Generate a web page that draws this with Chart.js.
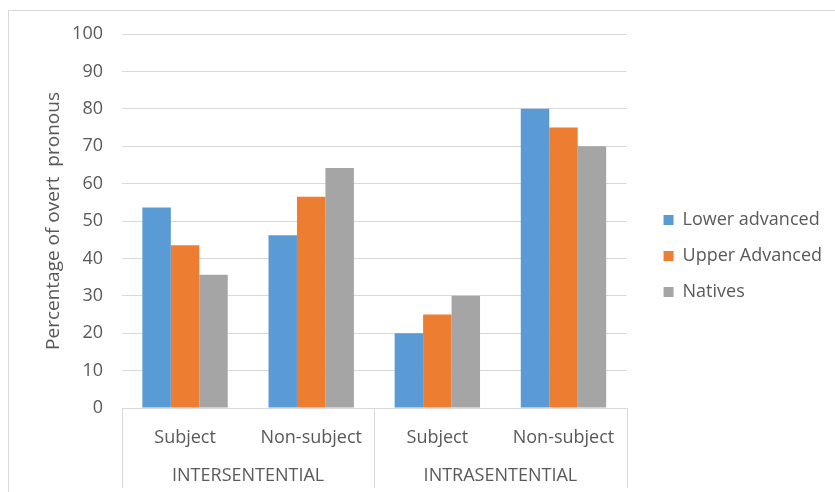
<!DOCTYPE html>
<html>
<head>
<meta charset="utf-8">
<script src="https://cdn.jsdelivr.net/npm/chart.js@4/dist/chart.umd.min.js"></script>
<style>
  html, body { margin: 0; padding: 0; background: #ffffff; overflow: hidden; }
  #wrap { position: relative; width: 835px; height: 492px; }
  #frame { position: absolute; left: 8px; top: 10px; width: 840px; height: 490px; border: 1px solid #d9d9d9; box-sizing: border-box; }
  canvas { position: absolute; left: 0; top: 0; }
</style>
</head>
<body>
<div id="wrap">
  <div id="frame"></div>
  <canvas id="chart" width="835" height="492"></canvas>
</div>
<script>
// Sub-categories along the x axis and the clause types they belong to
const categories = ['Subject', 'Non-subject', 'Subject', 'Non-subject'];
const groups = ['INTERSENTENTIAL', 'INTRASENTENTIAL'];
const groupSize = 2;

// Percentage of overt pronouns per learner group
const lowerAdvanced = [53.6, 46.2, 20, 80];
const upperAdvanced = [43.5, 56.5, 25, 75];
const natives = [35.6, 64.2, 30, 70];

const yTicks = { min: 0, max: 100, step: 10 };

const FONT = "'Open Sans', 'Liberation Sans', sans-serif";
const TEXT = '#595959';
const GRID = '#d9d9d9';

// Draws the second-level category row (clause type) and its separators
const groupAxis = {
  id: 'groupAxis',
  afterDraw(chart) {
    const xs = chart.scales.x;
    const ctx = chart.ctx;
    const n = categories.length;
    const edge = i => {
      if (i === 0) return xs.left;
      if (i === n) return xs.right;
      return (xs.getPixelForValue(i - 1) + xs.getPixelForValue(i)) / 2;
    };
    ctx.save();
    ctx.strokeStyle = GRID;
    ctx.lineWidth = 1;
    for (let g = 0; g <= groups.length; g++) {
      const x = Math.round(edge(g * groupSize)) + 0.5;
      ctx.beginPath();
      ctx.moveTo(x, xs.top);
      ctx.lineTo(x, xs.bottom);
      ctx.stroke();
    }
    ctx.fillStyle = TEXT;
    ctx.font = '18px ' + FONT;
    ctx.textAlign = 'center';
    ctx.textBaseline = 'middle';
    groups.forEach((label, g) => {
      const cx = (edge(g * groupSize) + edge((g + 1) * groupSize)) / 2;
      ctx.fillText(label, cx, xs.bottom - 12);
    });
    ctx.restore();
  }
};

new Chart(document.getElementById('chart'), {
  type: 'bar',
  data: {
    labels: categories,
    datasets: [
      { label: 'Lower advanced', data: lowerAdvanced, backgroundColor: '#5B9BD5' },
      { label: 'Upper Advanced', data: upperAdvanced, backgroundColor: '#ED7D31' },
      { label: 'Natives', data: natives, backgroundColor: '#A5A5A5' }
    ]
  },
  options: {
    responsive: false,
    animation: false,
    devicePixelRatio: 1,
    layout: { padding: { top: 24, bottom: 4, left: 22, right: 3 } },
    datasets: { bar: { categoryPercentage: 0.677, barPercentage: 1.0 } },
    plugins: {
      tooltip: { enabled: false },
      legend: {
        position: 'right',
        align: 'center',
        maxWidth: 240,
        labels: {
          boxWidth: 10,
          boxHeight: 10,
          padding: 18,
          color: TEXT,
          font: { family: FONT, size: 18 }
        }
      }
    },
    scales: {
      x: {
        type: 'category',
        position: 'bottom',
        grid: { display: false },
        border: { display: true, color: GRID },
        ticks: {
          color: TEXT,
          font: { family: FONT, size: 18 },
          padding: 11,
          maxRotation: 0,
          autoSkip: false
        },
        afterFit(s) { s.height = 80; }
      },
      xTop: {
        type: 'category',
        position: 'top',
        grid: { display: false },
        border: { display: false },
        ticks: { display: false },
        afterFit(s) { s.height = 10; }
      },
      y: {
        type: 'linear',
        position: 'left',
        min: yTicks.min,
        max: yTicks.max,
        grid: { color: GRID, drawTicks: false },
        border: { display: false },
        ticks: {
          stepSize: yTicks.step,
          color: TEXT,
          padding: 19,
          font: { family: FONT, size: 18 }
        },
        title: {
          display: true,
          text: 'Percentage of overt  pronous',
          color: TEXT,
          font: { family: FONT, size: 19 },
          padding: { top: 20, bottom: 0 }
        },
        afterFit(s) { s.width = 100; }
      },
      yRight: {
        type: 'linear',
        position: 'right',
        grid: { display: false },
        border: { display: false },
        ticks: { display: false },
        afterFit(s) { s.width = 19; }
      }
    }
  },
  plugins: [groupAxis]
});
</script>
</body>
</html>
